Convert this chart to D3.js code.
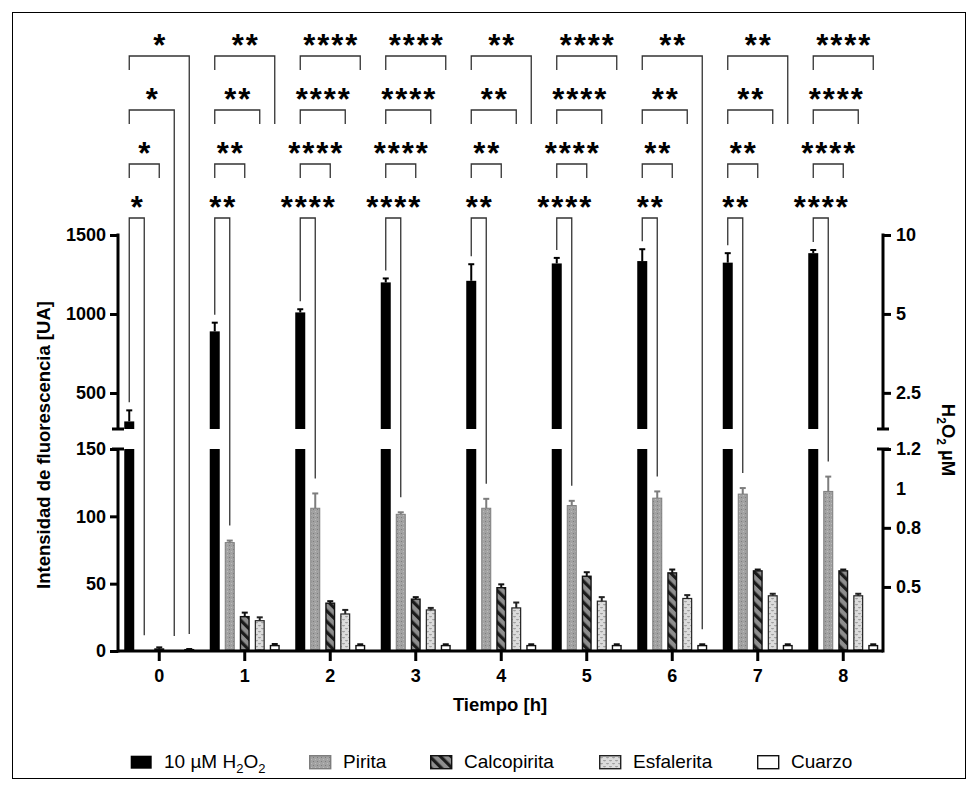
<!DOCTYPE html>
<html><head><meta charset="utf-8">
<script src="https://cdn.jsdelivr.net/npm/d3@7"></script>
<style>
body{margin:0;background:#fff}
svg{display:block;font-family:Arial,"Liberation Sans",sans-serif}
</style>
</head><body>
<svg id="chart" width="978" height="791"></svg>
<script>
// Time points (h) and series
const times = ["0","1","2","3","4","5","6","7","8"];
const seriesNames = ["10 µM H2O2","Pirita","Calcopirita","Esfalerita","Cuarzo"];

// Fluorescence [UA], mean and SD
const control = [320, 890, 1010, 1200, 1210, 1320, 1335, 1325, 1385];
const controlErr = [70, 55, 20, 25, 105, 35, 75, 60, 20];
const pirita = [0.5, 80.5, 106, 101.5, 106, 108, 113.5, 116.5, 118.5];
const piritaErr = [0, 1.5, 11, 1.5, 7, 3.5, 5, 4.5, 11];
const calcopirita = [1.5, 25.5, 35.5, 38.5, 47, 55.5, 58, 59.5, 59.5];
const calcopiritaErr = [1.2, 3, 1.5, 1.5, 2.5, 3, 2.5, 1, 1];
const esfalerita = [0, 22.5, 27.5, 30.5, 32, 37, 39, 41, 41];
const esfaleritaErr = [0, 2.5, 3, 1.5, 4, 3, 2.5, 1.5, 1.5];
const cuarzo = [1, 4, 4, 4, 4, 4, 4, 4, 4];
const cuarzoErr = [0.5, 1.2, 1, 1, 1, 1, 1, 1, 1];

// Significance vs. control, same label for the four comparisons of a time point
const significance = ["*","**","****","****","**","****","**","**","****"];
// How far the right leg of brackets 1-3 (to Cuarzo, Esfalerita, Calcopirita) runs down
const bracketLegs = [
  ["bar","bar","short"], ["next","short","short"], ["short","short","short"],
  ["short","short","short"], ["next","short","short"], ["short","short","short"],
  ["bar","short","short"], ["next","short","short"], ["short","short","short"]
];

// Axis ticks
const leftTicksUpper = [500, 1000, 1500];
const leftTicksLower = [0, 50, 100, 150];
const rightTicksUpper = [2.5, 5, 10];
const rightTicksLower = [0.5, 0.8, 1, 1.2];

const svg = d3.select("#chart");

// ---------- scales ----------
const axL = 118, axR = 883;
const yLower = d3.scaleLinear().domain([0, 150]).range([651, 449]);
const yUpper = d3.scaleLinear().domain([272, 1500]).range([429, 235]);
const rLower = d3.scaleLinear().domain([0.175, 1.2]).range([651, 449]);
const rUpper = d3.scaleLog().domain([1.82, 10]).range([429, 235]);
const xG = d3.scaleBand().domain(times).range([116.5, 886]);
const xS = d3.scaleBand().domain(seriesNames).range([-37.5, 37.5]).paddingInner(1/3).paddingOuter(1/6);
const cx = (ti, si) => xG(times[ti]) + xG.bandwidth()/2 + xS(seriesNames[si]) + xS.bandwidth()/2;
const bw = xS.bandwidth();

// ---------- patterns ----------
const defs = svg.append("defs");
const pDots = defs.append("pattern").attr("id","pat-pirita").attr("patternUnits","userSpaceOnUse")
  .attr("width",4).attr("height",4);
pDots.append("rect").attr("width",4).attr("height",4).attr("fill","#a2a2a2");
pDots.append("rect").attr("x",1).attr("y",1).attr("width",1).attr("height",1).attr("fill","#7c7c7c");
pDots.append("rect").attr("x",3).attr("y",3).attr("width",1).attr("height",1).attr("fill","#bcbcbc");

const pStripe = defs.append("pattern").attr("id","pat-calco").attr("patternUnits","userSpaceOnUse")
  .attr("width",7.5).attr("height",7.5).attr("patternTransform","rotate(-45)");
pStripe.append("rect").attr("width",7.5).attr("height",7.5).attr("fill","#8e8e8e");
pStripe.append("rect").attr("width",3.2).attr("height",7.5).attr("fill","#1a1a1a");

const pEsf = defs.append("pattern").attr("id","pat-esf").attr("patternUnits","userSpaceOnUse")
  .attr("width",6).attr("height",6);
pEsf.append("rect").attr("width",6).attr("height",6).attr("fill","#dcdcdc");
pEsf.append("path").attr("d","M0.5,1 L1.5,2.2 L2.5,1 M3.5,4 L4.5,5.2 L5.5,4").attr("stroke","#6e6e6e")
  .attr("stroke-width",0.8).attr("fill","none");

const styles = [
  {fill:"#000", stroke:"#000", sw:0, err:"#000"},
  {fill:"url(#pat-pirita)", stroke:"#7d7d7d", sw:1, err:"#7d7d7d"},
  {fill:"url(#pat-calco)", stroke:"#111", sw:1.4, err:"#111"},
  {fill:"url(#pat-esf)", stroke:"#222", sw:1.2, err:"#222"},
  {fill:"#fff", stroke:"#111", sw:1.4, err:"#111"}
];

// ---------- frame ----------
svg.append("rect").attr("x",12.5).attr("y",12.5).attr("width",953).attr("height",766)
  .attr("fill","none").attr("stroke","#000").attr("stroke-width",1);

// ---------- bars ----------
const lowerSeries = [
  {si:1, v:pirita, e:piritaErr},
  {si:2, v:calcopirita, e:calcopiritaErr},
  {si:3, v:esfalerita, e:esfaleritaErr},
  {si:4, v:cuarzo, e:cuarzoErr}
];
const barsG = svg.append("g");

// control bars, split over the broken axis
times.forEach((t, i) => {
  const x = cx(i, 0) - bw/2;
  barsG.append("rect").attr("x", x).attr("width", bw)
    .attr("y", yLower(150)).attr("height", yLower(0) - yLower(150)).attr("fill", "#000");
  barsG.append("rect").attr("x", x).attr("width", bw)
    .attr("y", yUpper(control[i])).attr("height", yUpper.range()[0] - yUpper(control[i])).attr("fill", "#000");
  const y0 = yUpper(control[i]), y1 = yUpper(control[i] + controlErr[i]);
  barsG.append("line").attr("x1", cx(i,0)).attr("x2", cx(i,0)).attr("y1", y0).attr("y2", y1)
    .attr("stroke","#000").attr("stroke-width",2);
  barsG.append("line").attr("x1", cx(i,0)-3).attr("x2", cx(i,0)+3).attr("y1", y1).attr("y2", y1)
    .attr("stroke","#000").attr("stroke-width",2);
});

lowerSeries.forEach(s => {
  const st = styles[s.si];
  times.forEach((t, i) => {
    const v = s.v[i], e = s.e[i];
    const c = cx(i, s.si);
    if (e > 0) {
      barsG.append("line").attr("x1", c).attr("x2", c).attr("y1", yLower(v)).attr("y2", yLower(v + e))
        .attr("stroke", st.err).attr("stroke-width", 2);
      barsG.append("line").attr("x1", c-3).attr("x2", c+3).attr("y1", yLower(v + e)).attr("y2", yLower(v + e))
        .attr("stroke", st.err).attr("stroke-width", 2);
    }
    barsG.append("rect").attr("x", c - bw/2 + st.sw/2).attr("width", bw - st.sw)
      .attr("y", yLower(v)).attr("height", Math.max(0, yLower(0) - yLower(v) - 1))
      .attr("fill", st.fill).attr("stroke", st.stroke).attr("stroke-width", st.sw);
  });
});

// ---------- axes ----------
const tickFont = g => {
  g.attr("font-family", "Arial, 'Liberation Sans', sans-serif").attr("font-size", 18).attr("font-weight", "bold");
  g.select(".domain").remove();
  g.selectAll(".tick line").attr("stroke", "#000").attr("stroke-width", 3);
  g.selectAll(".tick text").attr("fill", "#000");
};
const intFmt = d3.format("d");
const numFmt = d3.format("~g");
svg.append("g").attr("transform", `translate(${axL},0)`)
  .call(d3.axisLeft(yLower).tickValues(leftTicksLower).tickFormat(intFmt).tickSize(8).tickPadding(4)).call(tickFont);
svg.append("g").attr("transform", `translate(${axL},0)`)
  .call(d3.axisLeft(yUpper).tickValues(leftTicksUpper).tickFormat(intFmt).tickSize(8).tickPadding(4)).call(tickFont);
const rl = svg.append("g").attr("transform", `translate(${axR},0)`)
  .call(d3.axisRight(rLower).tickValues(rightTicksLower).tickFormat(numFmt).tickSize(8).tickPadding(5)).call(tickFont);
rl.selectAll(".tick").filter(d => d === 1).select("line").remove();
svg.append("g").attr("transform", `translate(${axR},0)`)
  .call(d3.axisRight(rUpper).tickValues(rightTicksUpper).tickFormat(numFmt).tickSize(8).tickPadding(5)).call(tickFont);
svg.append("g").attr("transform", `translate(0,${yLower(0)})`)
  .call(d3.axisBottom(xG).tickSize(10).tickPadding(8)).call(tickFont);

const axisLines = svg.append("g").attr("stroke", "#000").attr("stroke-width", 3);
[axL, axR].forEach(x => {
  axisLines.append("line").attr("x1", x).attr("x2", x).attr("y1", yUpper.range()[1] - 1.5).attr("y2", yUpper.range()[0]);
  axisLines.append("line").attr("x1", x).attr("x2", x).attr("y1", yLower.range()[1]).attr("y2", yLower.range()[0] + 1.5);
  // break caps
  axisLines.append("line").attr("x1", x - 6).attr("x2", x + 6).attr("y1", yUpper.range()[0]).attr("y2", yUpper.range()[0]);
  axisLines.append("line").attr("x1", x - 6).attr("x2", x + 6).attr("y1", yLower.range()[1]).attr("y2", yLower.range()[1]);
});
axisLines.append("line").attr("x1", axL).attr("x2", axR).attr("y1", yLower(0)).attr("y2", yLower(0));

// ---------- axis titles ----------
svg.append("text").attr("transform", "translate(50,445) rotate(-90)").attr("text-anchor", "middle")
  .attr("font-size", 18.5).attr("font-weight", "bold").text("Intensidad de fluorescencia [UA]");
svg.append("text").attr("x", 500).attr("y", 711).attr("text-anchor", "middle")
  .attr("font-size", 18.5).attr("font-weight", "bold").text("Tiempo [h]");
const rt = svg.append("text").attr("transform", "translate(942,440) rotate(90)").attr("text-anchor", "middle")
  .attr("font-size", 18.5).attr("font-weight", "bold");
rt.append("tspan").text("H");
rt.append("tspan").attr("font-size", 12).attr("dy", 5).text("2");
rt.append("tspan").attr("dy", -5).text("O");
rt.append("tspan").attr("font-size", 12).attr("dy", 5).text("2");
rt.append("tspan").attr("dy", -5).text(" µM");

// ---------- significance brackets ----------
const rowsY = [56, 110, 164, 218];
const brG = svg.append("g").attr("fill", "none").attr("stroke", "#333").attr("stroke-width", 1.3);
const starG = svg.append("g").attr("font-size", 31).attr("font-weight", "bold").attr("text-anchor", "middle");
const lowerVals = [null, [pirita, piritaErr], [calcopirita, calcopiritaErr], [esfalerita, esfaleritaErr], [cuarzo, cuarzoErr]];
times.forEach((t, i) => {
  rowsY.forEach((yr, r) => {
    const target = 4 - r;
    const xl = cx(i, 0), xr = cx(i, target);
    const leftEnd = r < 3 ? yr + 14 : yUpper(control[i] + controlErr[i]) - 8;
    const kind = r < 3 ? bracketLegs[i][r] : "bar";
    const [vv, ee] = lowerVals[target];
    const rightEnd = kind === "short" ? yr + 14 : kind === "next" ? rowsY[1] + 14 : yLower(vv[i] + ee[i]) - 15;
    brG.append("path").attr("d", `M${xl},${leftEnd}V${yr}H${xr}V${rightEnd}`);
    const stars = significance[i].length;
    const mid = (xl + xr) / 2;
    for (let k = 0; k < stars; k++) {
      starG.append("text").attr("x", mid + (k - (stars - 1) / 2) * 14).attr("y", yr - 0.5).text("*");
    }
  });
});

// ---------- legend ----------
const legX = [130, 309, 430, 599, 757];
const leg = svg.append("g");
seriesNames.forEach((name, si) => {
  const st = styles[si];
  leg.append("rect").attr("x", legX[si] + 0.7).attr("y", 755.7).attr("width", 21).attr("height", 13)
    .attr("fill", st.fill).attr("stroke", si === 0 ? "#000" : st.stroke).attr("stroke-width", si === 0 ? 0 : 1.4);
  const tx = leg.append("text").attr("x", legX[si] + 34).attr("y", 768).attr("font-size", 19);
  if (si === 0) {
    tx.append("tspan").text("10 µM H");
    tx.append("tspan").attr("font-size", 13).attr("dy", 5).text("2");
    tx.append("tspan").attr("dy", -5).text("O");
    tx.append("tspan").attr("font-size", 13).attr("dy", 5).text("2");
  } else {
    tx.text(name);
  }
});
</script>
</body></html>
